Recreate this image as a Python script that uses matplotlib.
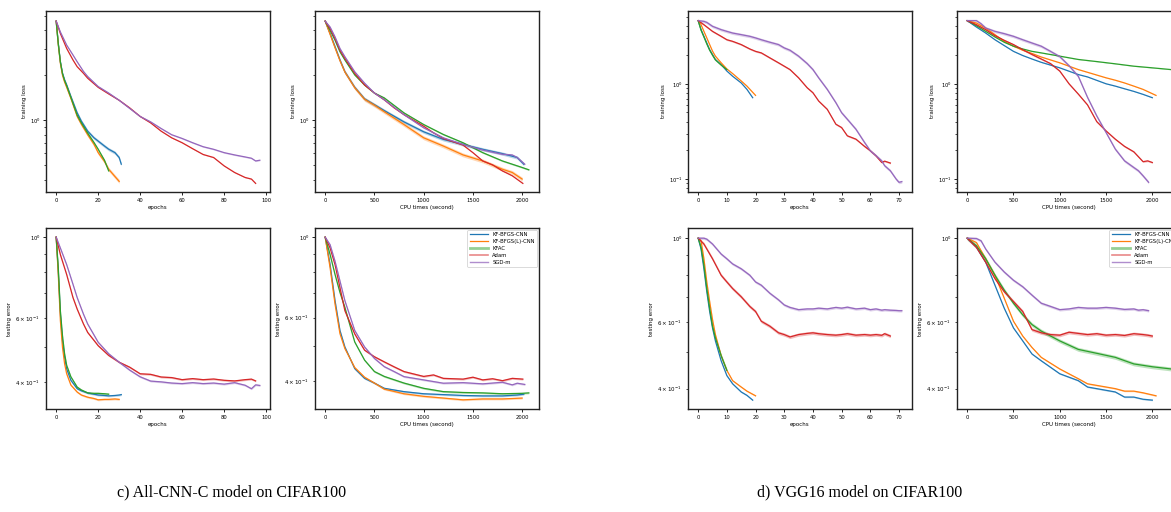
import matplotlib
matplotlib.use("Agg")
import matplotlib.pyplot as plt
from matplotlib.lines import Line2D
import numpy as np

names = ["KF-BFGS-CNN", "KF-BFGS(L)-CNN", "KFAC", "Adam", "SGD-m"]
colors = ["#1f77b4", "#ff7f0e", "#2ca02c", "#d62728", "#9467bd"]

# ---- c) All-CNN-C on CIFAR100, per epoch ----
c_ep_kf_x = [0, 1, 2, 3, 4, 5, 7, 10, 12, 15, 18, 20, 23, 25, 28, 30, 31]
c_ep_kf_loss = [4.60, 3.26, 2.46, 2.06, 1.86, 1.72, 1.44, 1.12, 0.985, 0.845, 0.763, 0.725, 0.672, 0.64, 0.607, 0.563, 0.508]
c_ep_kf_err = [1.0, 0.806, 0.614, 0.52, 0.468, 0.434, 0.404, 0.383, 0.378, 0.373, 0.37, 0.368, 0.367, 0.366, 0.367, 0.368, 0.369]
c_ep_kfl_x = [0, 1, 2, 3, 4, 5, 7, 10, 12, 15, 18, 20, 23, 25, 28, 30]
c_ep_kfl_loss = [4.60, 3.20, 2.40, 2.0, 1.8, 1.66, 1.40, 1.06, 0.94, 0.80, 0.69, 0.607, 0.53, 0.47, 0.42, 0.39]
c_ep_kfl_err = [1.0, 0.789, 0.589, 0.498, 0.449, 0.421, 0.392, 0.375, 0.368, 0.363, 0.36, 0.357, 0.358, 0.358, 0.359, 0.358]
c_ep_kfac_x = [0, 1, 2, 3, 4, 5, 7, 10, 12, 15, 18, 20, 23, 25]
c_ep_kfac_loss = [4.60, 3.25, 2.45, 2.05, 1.84, 1.70, 1.42, 1.08, 0.96, 0.82, 0.71, 0.64, 0.54, 0.458]
c_ep_kfac_err = [1.0, 0.823, 0.627, 0.536, 0.478, 0.444, 0.413, 0.387, 0.38, 0.373, 0.372, 0.372, 0.371, 0.37]
c_ep_adam_x = [0, 2, 5, 8, 10, 13, 15, 20, 25, 30, 35, 40, 45, 50, 55, 60, 65, 70, 75, 80, 85, 90, 93, 95]
c_ep_adam_loss = [4.60, 3.80, 3.02, 2.53, 2.28, 2.06, 1.91, 1.66, 1.50, 1.36, 1.21, 1.06, 0.96, 0.845, 0.763, 0.707, 0.645, 0.59, 0.563, 0.495, 0.447, 0.414, 0.404, 0.378]
c_ep_adam_err = [1.0, 0.895, 0.789, 0.682, 0.634, 0.577, 0.547, 0.503, 0.473, 0.453, 0.439, 0.421, 0.4195, 0.4125, 0.411, 0.4056, 0.4083, 0.4056, 0.4073, 0.404, 0.4024, 0.4056, 0.407, 0.4024]
c_ep_sgd_x = [0, 2, 5, 8, 10, 13, 15, 20, 25, 30, 35, 40, 45, 50, 55, 60, 65, 70, 75, 80, 85, 90, 93, 95, 97]
c_ep_sgd_loss = [4.60, 3.89, 3.18, 2.73, 2.46, 2.12, 1.96, 1.68, 1.52, 1.36, 1.20, 1.06, 0.975, 0.88, 0.80, 0.755, 0.707, 0.665, 0.639, 0.607, 0.586, 0.568, 0.557, 0.534, 0.54]
c_ep_sgd_err = [1.0, 0.933, 0.84, 0.742, 0.682, 0.614, 0.577, 0.514, 0.478, 0.453, 0.431, 0.413, 0.402, 0.40, 0.397, 0.3956, 0.398, 0.3956, 0.397, 0.3943, 0.398, 0.3915, 0.383, 0.3925, 0.391]

# ---- c) All-CNN-C on CIFAR100, per CPU second ----
c_cpu_kf_x = [0, 50, 100, 150, 200, 300, 400, 500, 600, 800, 1000, 1200, 1400, 1600, 1800, 1950, 2017]
c_cpu_kf_loss = [4.60, 3.80, 3.10, 2.53, 2.11, 1.66, 1.39, 1.27, 1.16, 0.975, 0.837, 0.744, 0.689, 0.639, 0.598, 0.563, 0.508]
c_cpu_kf_err = [1.0, 0.84, 0.668, 0.553, 0.498, 0.434, 0.408, 0.396, 0.383, 0.375, 0.37, 0.368, 0.366, 0.365, 0.365, 0.367, 0.369]
c_cpu_kfl_x = [0, 50, 100, 150, 200, 300, 400, 500, 600, 800, 1000, 1200, 1400, 1600, 1800, 1900, 2000]
c_cpu_kfl_loss = [4.60, 3.75, 3.05, 2.50, 2.10, 1.65, 1.38, 1.26, 1.14, 0.936, 0.763, 0.672, 0.586, 0.534, 0.47, 0.447, 0.404]
c_cpu_kfl_err = [1.0, 0.823, 0.654, 0.542, 0.493, 0.437, 0.411, 0.396, 0.381, 0.37, 0.364, 0.36, 0.356, 0.358, 0.358, 0.359, 0.36]
c_cpu_kfac_x = [0, 50, 100, 150, 200, 300, 400, 500, 600, 800, 1000, 1200, 1400, 1600, 1800, 2000, 2068]
c_cpu_kfac_loss = [4.60, 3.99, 3.43, 2.87, 2.53, 2.01, 1.72, 1.52, 1.41, 1.12, 0.936, 0.803, 0.707, 0.607, 0.534, 0.483, 0.466]
c_cpu_kfac_err = [1.0, 0.895, 0.789, 0.704, 0.64, 0.514, 0.458, 0.426, 0.413, 0.396, 0.383, 0.375, 0.373, 0.372, 0.37, 0.371, 0.372]
c_cpu_adam_x = [0, 50, 100, 150, 200, 300, 400, 500, 600, 700, 800, 1000, 1100, 1200, 1400, 1500, 1600, 1700, 1800, 1900, 2007]
c_cpu_adam_loss = [4.60, 4.1, 3.52, 2.94, 2.59, 2.06, 1.72, 1.52, 1.37, 1.21, 1.09, 0.912, 0.824, 0.755, 0.682, 0.607, 0.534, 0.503, 0.458, 0.425, 0.378]
c_cpu_adam_err = [1.0, 0.933, 0.84, 0.726, 0.627, 0.541, 0.488, 0.468, 0.453, 0.439, 0.426, 0.413, 0.417, 0.408, 0.406, 0.411, 0.404, 0.407, 0.402, 0.408, 0.406]
c_cpu_sgd_x = [0, 50, 100, 150, 200, 300, 400, 500, 600, 700, 800, 1000, 1200, 1400, 1600, 1800, 1900, 1950, 2027]
c_cpu_sgd_loss = [4.60, 4.2, 3.61, 3.02, 2.66, 2.11, 1.77, 1.52, 1.37, 1.22, 1.09, 0.89, 0.763, 0.689, 0.632, 0.592, 0.586, 0.563, 0.508]
c_cpu_sgd_err = [1.0, 0.953, 0.858, 0.757, 0.668, 0.553, 0.498, 0.463, 0.4395, 0.426, 0.4125, 0.404, 0.3956, 0.397, 0.394, 0.398, 0.3915, 0.3956, 0.3925]

# ---- d) VGG16 on CIFAR100, per epoch ----
d_ep_kf_x = [0, 1, 2, 3, 4, 5, 6, 8, 10, 12, 15, 17, 19]
d_ep_kf_loss = [4.60, 3.70, 3.15, 2.68, 2.28, 2.03, 1.80, 1.59, 1.36, 1.20, 1.02, 0.873, 0.714]
d_ep_kf_err = [1.0, 0.936, 0.83, 0.722, 0.64, 0.579, 0.535, 0.474, 0.433, 0.412, 0.392, 0.384, 0.373]
d_ep_kfl_x = [0, 1, 2, 3, 4, 5, 6, 8, 10, 12, 15, 17, 20]
d_ep_kfl_loss = [4.60, 4.17, 3.55, 3.03, 2.58, 2.20, 1.95, 1.66, 1.43, 1.28, 1.07, 0.945, 0.755]
d_ep_kfl_err = [1.0, 0.984, 0.882, 0.766, 0.68, 0.609, 0.556, 0.489, 0.447, 0.42, 0.404, 0.394, 0.383]
d_ep_kfac_x = [0, 1, 2, 3, 4, 5, 6, 8, 10]
d_ep_kfac_loss = [4.60, 3.65, 3.10, 2.62, 2.25, 1.99, 1.78, 1.57, 1.41]
d_ep_kfac_err = [1.0, 0.946, 0.847, 0.736, 0.653, 0.585, 0.545, 0.489, 0.447]
d_ep_adam_x = [0, 2, 5, 8, 10, 12, 15, 18, 20, 22, 25, 28, 30, 32, 35, 38, 40, 42, 45, 48, 50, 52, 55, 58, 60, 62, 64, 65, 67]
d_ep_adam_loss = [4.60, 4.17, 3.55, 3.15, 2.90, 2.79, 2.58, 2.32, 2.19, 2.11, 1.87, 1.66, 1.53, 1.41, 1.155, 0.908, 0.805, 0.659, 0.539, 0.376, 0.347, 0.284, 0.262, 0.22, 0.198, 0.175, 0.149, 0.154, 0.147]
d_ep_adam_err = [1.0, 0.965, 0.882, 0.798, 0.766, 0.736, 0.70, 0.66, 0.64, 0.603, 0.585, 0.562, 0.556, 0.548, 0.556, 0.56, 0.562, 0.559, 0.556, 0.554, 0.556, 0.559, 0.554, 0.556, 0.554, 0.556, 0.5535, 0.559, 0.551]
d_ep_sgd_x = [0, 2, 3, 5, 8, 10, 12, 15, 18, 20, 22, 25, 28, 30, 32, 35, 38, 40, 42, 45, 48, 50, 52, 55, 58, 60, 62, 64, 65, 67, 69, 70, 71]
d_ep_sgd_loss = [4.60, 4.52, 4.41, 4.01, 3.70, 3.55, 3.41, 3.28, 3.15, 3.03, 2.90, 2.73, 2.58, 2.38, 2.25, 1.95, 1.63, 1.41, 1.155, 0.873, 0.633, 0.497, 0.424, 0.333, 0.242, 0.198, 0.176, 0.155, 0.138, 0.122, 0.10, 0.0923, 0.0938]
d_ep_sgd_err = [1.0, 1.0, 0.994, 0.965, 0.908, 0.882, 0.855, 0.83, 0.798, 0.766, 0.751, 0.715, 0.687, 0.666, 0.656, 0.647, 0.65, 0.65, 0.653, 0.65, 0.656, 0.653, 0.657, 0.65, 0.653, 0.647, 0.65, 0.645, 0.647, 0.645, 0.644, 0.643, 0.643]

# ---- d) VGG16 on CIFAR100, per CPU second ----
d_cpu_kf_x = [0, 100, 200, 300, 400, 500, 600, 700, 800, 1000, 1200, 1300, 1500, 1600, 1700, 1800, 1900, 2000]
d_cpu_kf_loss = [4.60, 3.94, 3.41, 2.90, 2.52, 2.19, 1.98, 1.82, 1.68, 1.47, 1.25, 1.18, 1.0, 0.945, 0.886, 0.832, 0.774, 0.714]
d_cpu_kf_err = [1.0, 0.946, 0.864, 0.751, 0.653, 0.579, 0.535, 0.494, 0.474, 0.438, 0.42, 0.404, 0.396, 0.392, 0.38, 0.38, 0.375, 0.373]
d_cpu_kfl_x = [0, 100, 200, 300, 400, 500, 600, 700, 800, 1000, 1200, 1300, 1500, 1600, 1700, 1800, 1900, 2040]
d_cpu_kfl_loss = [4.60, 4.34, 3.85, 3.28, 2.79, 2.48, 2.25, 2.08, 1.91, 1.66, 1.41, 1.32, 1.155, 1.09, 1.02, 0.945, 0.873, 0.755]
d_cpu_kfl_err = [1.0, 0.974, 0.882, 0.798, 0.694, 0.603, 0.551, 0.514, 0.484, 0.451, 0.425, 0.412, 0.404, 0.40, 0.394, 0.394, 0.39, 0.383]
d_cpu_kfac_x = [0, 100, 200, 300, 400, 500, 600, 700, 800, 1000, 1200, 1400, 1600, 1800, 2000, 2200]
d_cpu_kfac_loss = [4.60, 4.07, 3.55, 3.10, 2.73, 2.48, 2.32, 2.19, 2.11, 1.95, 1.80, 1.71, 1.62, 1.53, 1.47, 1.41]
d_cpu_kfac_err = [1.0, 0.955, 0.882, 0.798, 0.729, 0.673, 0.627, 0.591, 0.568, 0.535, 0.508, 0.496, 0.484, 0.465, 0.457, 0.451]
d_cpu_adam_x = [0, 100, 200, 300, 400, 500, 600, 700, 800, 900, 1000, 1100, 1200, 1300, 1400, 1500, 1600, 1700, 1800, 1900, 1950, 2000]
d_cpu_adam_loss = [4.60, 4.17, 3.70, 3.20, 2.86, 2.58, 2.28, 2.03, 1.82, 1.63, 1.36, 1.0, 0.78, 0.60, 0.40, 0.32, 0.262, 0.22, 0.193, 0.152, 0.155, 0.149]
d_cpu_adam_err = [1.0, 0.946, 0.864, 0.782, 0.722, 0.68, 0.64, 0.573, 0.562, 0.556, 0.554, 0.564, 0.56, 0.556, 0.559, 0.554, 0.556, 0.553, 0.559, 0.556, 0.554, 0.551]
d_cpu_sgd_x = [0, 100, 150, 200, 300, 400, 500, 600, 700, 800, 900, 1000, 1100, 1200, 1300, 1400, 1500, 1600, 1700, 1800, 1850, 1900, 1960]
d_cpu_sgd_loss = [4.60, 4.60, 4.27, 3.85, 3.55, 3.36, 3.15, 2.90, 2.68, 2.48, 2.19, 1.93, 1.55, 1.20, 0.72, 0.459, 0.308, 0.206, 0.155, 0.132, 0.122, 0.108, 0.0923]
d_cpu_sgd_err = [1.0, 0.998, 0.984, 0.936, 0.864, 0.814, 0.774, 0.744, 0.707, 0.673, 0.66, 0.647, 0.65, 0.656, 0.653, 0.653, 0.656, 0.653, 0.648, 0.65, 0.645, 0.647, 0.643]

# band half-widths (relative) read from the shaded areas
spread_c_loss = [0.025, 0.03, 0.012, 0.006, 0.01]
spread_c_err = [0.006, 0.006, 0.006, 0.006, 0.006]
spread_d_loss = [0.006, 0.006, 0.006, 0.02, 0.035]
spread_d_err = [0.004, 0.004, 0.012, 0.01, 0.008]

plt.rc("font", family="DejaVu Sans", size=4)
fig = plt.figure(figsize=(11.71, 5.12), dpi=100)

W, H = 1171.0, 512.0


def make_ax(left, top, width=224, height=181):
    ax = fig.add_axes([left / W, 1 - (top + height) / H, width / W, height / H])
    ax.set_yscale("log")
    for s in ax.spines.values():
        s.set_linewidth(1.0)
        s.set_color("#222222")
    ax.tick_params(which="major", length=2.5, width=0.6, labelsize=3.8, pad=1.5)
    ax.tick_params(which="minor", length=1.5, width=0.5)
    return ax


def draw(ax, series, spreads):
    for (x, y), c, s in zip(series, colors, spreads):
        x = np.array(x, dtype=float)
        y = np.array(y, dtype=float)
        ax.fill_between(x, y * (1 - s), y * (1 + s), color=c, alpha=0.3, lw=0)
        ax.plot(x, y, color=c, lw=0.9)


def add_legend(ax):
    handles = [
        Line2D([], [], color=colors[0], lw=0.9),
        Line2D([], [], color=colors[1], lw=0.9),
        Line2D([], [], color=colors[2], lw=2.0, alpha=0.5),
        Line2D([], [], color=colors[3], lw=1.2, alpha=0.55),
        Line2D([], [], color=colors[4], lw=1.0, alpha=0.75),
    ]
    leg = ax.legend(handles, names, loc="upper right", fontsize=3.8,
                    handlelength=3.5, borderaxespad=0.4, labelspacing=0.35,
                    framealpha=1.0, fancybox=True)
    leg.get_frame().set_linewidth(0.5)
    leg.get_frame().set_edgecolor("#cccccc")


c_ep = [(c_ep_kf_x, None), (c_ep_kfl_x, None), (c_ep_kfac_x, None), (c_ep_adam_x, None), (c_ep_sgd_x, None)]

# top-left group
ax = make_ax(46, 11)
draw(ax, [(c_ep_kf_x, c_ep_kf_loss), (c_ep_kfl_x, c_ep_kfl_loss), (c_ep_kfac_x, c_ep_kfac_loss),
          (c_ep_adam_x, c_ep_adam_loss), (c_ep_sgd_x, c_ep_sgd_loss)], spread_c_loss)
ax.set_xlabel("epochs", labelpad=1.5)
ax.set_ylabel("training loss", labelpad=2)

ax = make_ax(315, 11)
draw(ax, [(c_cpu_kf_x, c_cpu_kf_loss), (c_cpu_kfl_x, c_cpu_kfl_loss), (c_cpu_kfac_x, c_cpu_kfac_loss),
          (c_cpu_adam_x, c_cpu_adam_loss), (c_cpu_sgd_x, c_cpu_sgd_loss)], spread_c_loss)
ax.set_xlabel("CPU times (second)", labelpad=1.5)
ax.set_ylabel("training loss", labelpad=2)

ax = make_ax(46, 228)
draw(ax, [(c_ep_kf_x, c_ep_kf_err), (c_ep_kfl_x, c_ep_kfl_err), (c_ep_kfac_x, c_ep_kfac_err),
          (c_ep_adam_x, c_ep_adam_err), (c_ep_sgd_x, c_ep_sgd_err)], spread_c_err)
ax.set_xlabel("epochs", labelpad=1.5)
ax.set_ylabel("testing error", labelpad=2)

ax = make_ax(315, 228)
draw(ax, [(c_cpu_kf_x, c_cpu_kf_err), (c_cpu_kfl_x, c_cpu_kfl_err), (c_cpu_kfac_x, c_cpu_kfac_err),
          (c_cpu_adam_x, c_cpu_adam_err), (c_cpu_sgd_x, c_cpu_sgd_err)], spread_c_err)
ax.set_xlabel("CPU times (second)", labelpad=1.5)
ax.set_ylabel("testing error", labelpad=2)
add_legend(ax)

# right group
ax = make_ax(688, 11)
draw(ax, [(d_ep_kf_x, d_ep_kf_loss), (d_ep_kfl_x, d_ep_kfl_loss), (d_ep_kfac_x, d_ep_kfac_loss),
          (d_ep_adam_x, d_ep_adam_loss), (d_ep_sgd_x, d_ep_sgd_loss)], spread_d_loss)
ax.set_xlabel("epochs", labelpad=1.5)
ax.set_ylabel("training loss", labelpad=2)

ax = make_ax(957, 11)
draw(ax, [(d_cpu_kf_x, d_cpu_kf_loss), (d_cpu_kfl_x, d_cpu_kfl_loss), (d_cpu_kfac_x, d_cpu_kfac_loss),
          (d_cpu_adam_x, d_cpu_adam_loss), (d_cpu_sgd_x, d_cpu_sgd_loss)], spread_d_loss)
ax.set_xlabel("CPU times (second)", labelpad=1.5)
ax.set_ylabel("training loss", labelpad=2)

ax = make_ax(688, 228)
draw(ax, [(d_ep_kf_x, d_ep_kf_err), (d_ep_kfl_x, d_ep_kfl_err), (d_ep_kfac_x, d_ep_kfac_err),
          (d_ep_adam_x, d_ep_adam_err), (d_ep_sgd_x, d_ep_sgd_err)], spread_d_err)
ax.set_xlabel("epochs", labelpad=1.5)
ax.set_ylabel("testing error", labelpad=2)

ax = make_ax(957, 228)
draw(ax, [(d_cpu_kf_x, d_cpu_kf_err), (d_cpu_kfl_x, d_cpu_kfl_err), (d_cpu_kfac_x, d_cpu_kfac_err),
          (d_cpu_adam_x, d_cpu_adam_err), (d_cpu_sgd_x, d_cpu_sgd_err)], spread_d_err)
ax.set_xlabel("CPU times (second)", labelpad=1.5)
ax.set_ylabel("testing error", labelpad=2)
add_legend(ax)

fig.text(232 / W, 1 - 492 / H, "c) All-CNN-C model on CIFAR100", ha="center", va="center",
         family="Liberation Serif", fontsize=11.5)
fig.text(860 / W, 1 - 492 / H, "d) VGG16 model on CIFAR100", ha="center", va="center",
         family="Liberation Serif", fontsize=11.5)

fig.savefig("out.png", dpi=100)
